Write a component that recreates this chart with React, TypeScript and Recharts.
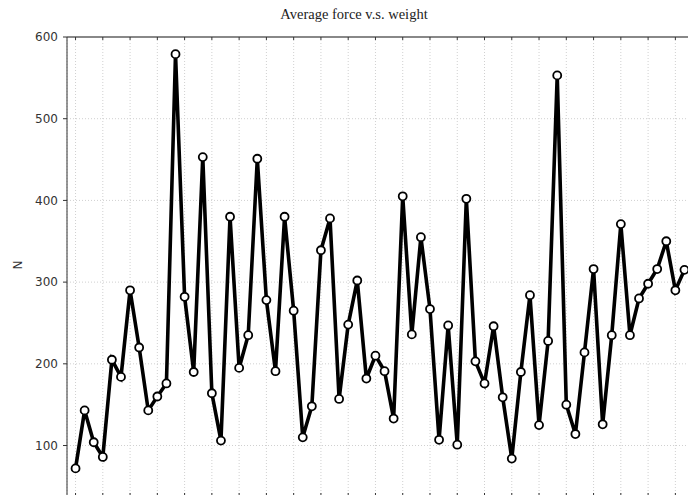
import React from 'react'
import {
  LineChart,
  Line,
  XAxis,
  YAxis,
  CartesianGrid
} from 'recharts'

// average force per sample (N)
const forceValues = [
  72, 143, 104, 86, 205, 184, 290, 220, 143, 160,
  176, 579, 282, 190, 453, 164, 106, 380, 195, 235,
  451, 278, 191, 380, 265, 110, 148, 339, 378, 157,
  248, 302, 182, 210, 191, 133, 405, 236, 355, 267,
  107, 247, 101, 402, 203, 176, 246, 159, 84, 190,
  284, 125, 228, 553, 150, 114, 214, 316, 126, 235,
  371, 235, 280, 298, 316, 350, 290, 315
]

const xTicks = [0, 3, 6, 9, 12, 15, 18, 21, 24, 27, 30, 33, 36, 39, 42, 45, 48, 51, 54, 57, 60, 63, 66]
const yTicks = [100, 200, 300, 400, 500, 600]

const chartTitle = 'Average force v.s. weight'
const yLabel = 'N'

const data = forceValues.map((force, idx) => ({ idx, force }))

const sans = '"DejaVu Sans", sans-serif'

export default function App() {
  return (
    <div
      style={{
        position: 'absolute',
        top: 0,
        left: 0,
        width: 688,
        height: 495,
        overflow: 'hidden',
        background: '#fff'
      }}
    >
      <div
        style={{
          position: 'absolute',
          top: 6,
          left: 0,
          width: 708,
          textAlign: 'center',
          fontFamily: '"Liberation Serif", serif',
          fontSize: 14.5,
          lineHeight: '17px',
          color: '#222'
        }}
      >
        {chartTitle}
      </div>
      <div
        style={{
          position: 'absolute',
          left: 8,
          top: 255,
          width: 20,
          height: 20,
          lineHeight: '20px',
          textAlign: 'center',
          fontFamily: sans,
          fontSize: 12,
          color: '#333',
          transform: 'rotate(-90deg)'
        }}
      >
        {yLabel}
      </div>
      <div style={{ position: 'absolute', top: 0, left: 0 }}>
        <LineChart
          width={720}
          height={520}
          data={data}
          margin={{ top: 37, right: 27, bottom: 23, left: 0 }}
        >
          <CartesianGrid strokeDasharray="1 2" stroke="#d0d0d0" />
          <XAxis
            dataKey="idx"
            type="number"
            domain={[-0.94, 67.94]}
            ticks={xTicks}
            mirror
            tickSize={4}
            tickFormatter={() => ''}
            axisLine={{ stroke: '#333' }}
            tickLine={{ stroke: '#333' }}
          />
          <XAxis
            xAxisId="top"
            orientation="top"
            dataKey="idx"
            type="number"
            domain={[-0.94, 67.94]}
            ticks={xTicks}
            mirror
            tickSize={3}
            tickFormatter={() => ''}
            axisLine={{ stroke: '#888', strokeWidth: 2 }}
            tickLine={{ stroke: '#333' }}
          />
          <YAxis
            type="number"
            domain={[37, 600]}
            ticks={yTicks}
            width={67}
            tickSize={4}
            tickMargin={5}
            allowDataOverflow
            axisLine={{ stroke: '#333' }}
            tickLine={{ stroke: '#333' }}
            tick={{ fill: '#333', fontSize: 12, fontFamily: sans }}
          />
          <Line
            type="linear"
            dataKey="force"
            stroke="#000"
            strokeWidth={3.6}
            dot={{ r: 4, fill: '#fff', stroke: '#000', strokeWidth: 1.8 }}
            activeDot={false}
            isAnimationActive={false}
          />
        </LineChart>
      </div>
    </div>
  )
}
